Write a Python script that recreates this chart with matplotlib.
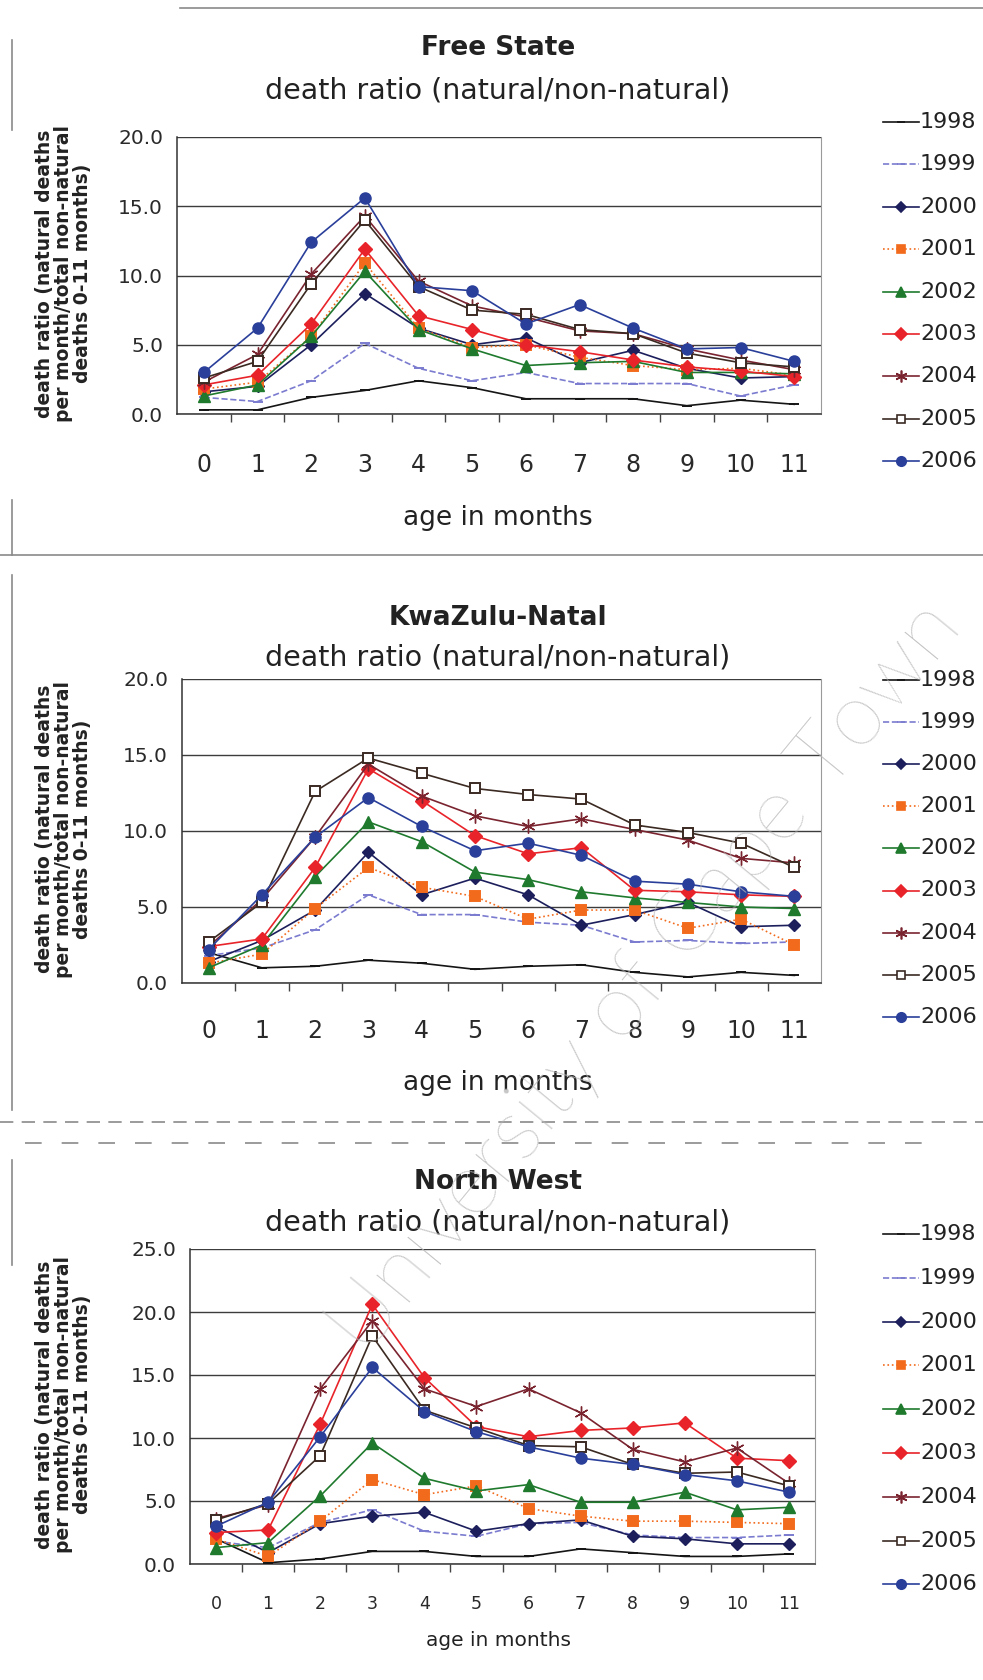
"""Three stacked line charts: infant death ratio (natural / non-natural)
by age in months, 1998-2006, for Free State, KwaZulu-Natal and North West.
"""
import numpy as np
import matplotlib.pyplot as plt
from matplotlib.lines import Line2D
from matplotlib.ticker import FormatStrFormatter

W, H = 983, 1680

MONTHS = list(range(12))
YEARS = ["1998", "1999", "2000", "2001", "2002", "2003", "2004", "2005", "2006"]

FREE_STATE = [
    [0.3, 0.3, 1.2, 1.7, 2.4, 1.9, 1.1, 1.1, 1.1, 0.6, 1.0, 0.7],
    [1.2, 0.9, 2.4, 5.1, 3.3, 2.4, 3.0, 2.2, 2.2, 2.2, 1.3, 2.1],
    [1.6, 2.0, 5.0, 8.7, 6.2, 5.0, 5.5, 3.7, 4.6, 3.3, 2.6, 2.7],
    [1.8, 2.3, 5.6, 10.9, 6.2, 4.8, 5.0, 4.1, 3.5, 3.2, 3.3, 2.8],
    [1.3, 2.1, 5.6, 10.3, 6.1, 4.7, 3.5, 3.7, 3.8, 3.0, 3.0, 2.9],
    [2.1, 2.8, 6.5, 11.9, 7.1, 6.1, 5.0, 4.5, 3.9, 3.4, 3.1, 2.7],
    [2.3, 4.3, 10.1, 14.3, 9.6, 7.8, 7.0, 6.0, 5.8, 4.7, 3.9, 3.2],
    [2.6, 3.8, 9.4, 14.0, 9.2, 7.5, 7.2, 6.1, 5.8, 4.4, 3.7, 3.4],
    [3.0, 6.2, 12.4, 15.6, 9.2, 8.9, 6.5, 7.9, 6.2, 4.7, 4.8, 3.8],
]

KWAZULU_NATAL = [
    [2.0, 1.0, 1.1, 1.5, 1.3, 0.9, 1.1, 1.2, 0.7, 0.4, 0.7, 0.5],
    [1.8, 2.3, 3.5, 5.8, 4.5, 4.5, 4.0, 3.8, 2.7, 2.8, 2.6, 2.7],
    [1.4, 2.8, 4.8, 8.6, 5.8, 6.9, 5.8, 3.8, 4.5, 5.3, 3.7, 3.8],
    [1.3, 1.9, 4.9, 7.6, 6.3, 5.7, 4.2, 4.8, 4.8, 3.6, 4.2, 2.5],
    [1.0, 2.5, 7.0, 10.6, 9.3, 7.3, 6.8, 6.0, 5.6, 5.3, 5.0, 4.9],
    [2.4, 2.9, 7.6, 14.1, 12.0, 9.7, 8.5, 8.9, 6.1, 6.0, 5.8, 5.7],
    [2.4, 5.5, 9.6, 14.4, 12.3, 11.0, 10.3, 10.8, 10.1, 9.4, 8.2, 7.9],
    [2.7, 5.3, 12.6, 14.8, 13.8, 12.8, 12.4, 12.1, 10.4, 9.9, 9.2, 7.6],
    [2.2, 5.8, 9.6, 12.2, 10.3, 8.7, 9.2, 8.4, 6.7, 6.5, 6.0, 5.7],
]

NORTH_WEST = [
    [2.0, 0.1, 0.4, 1.0, 1.0, 0.6, 0.6, 1.2, 0.9, 0.6, 0.6, 0.8],
    [1.8, 1.3, 3.3, 4.3, 2.6, 2.2, 3.2, 3.3, 2.3, 2.1, 2.1, 2.3],
    [3.0, 0.9, 3.2, 3.8, 4.1, 2.6, 3.2, 3.5, 2.2, 2.0, 1.6, 1.6],
    [2.0, 0.6, 3.4, 6.7, 5.5, 6.2, 4.4, 3.8, 3.4, 3.4, 3.3, 3.2],
    [1.3, 1.7, 5.4, 9.6, 6.8, 5.8, 6.3, 4.9, 4.9, 5.7, 4.3, 4.5],
    [2.5, 2.7, 11.1, 20.6, 14.8, 10.9, 10.1, 10.6, 10.8, 11.2, 8.4, 8.2],
    [3.6, 4.7, 13.9, 19.3, 13.9, 12.5, 13.9, 12.0, 9.1, 8.1, 9.2, 6.4],
    [3.5, 4.8, 8.6, 18.1, 12.2, 10.8, 9.4, 9.3, 7.9, 7.2, 7.3, 6.2],
    [3.0, 4.9, 10.1, 15.6, 12.1, 10.5, 9.3, 8.4, 7.9, 7.1, 6.6, 5.7],
]

# series styling (Excel-like defaults)
COLORS = ["#151515", "#7b7bd0", "#1c1f5c", "#f26b1d", "#1f7a2e",
          "#e8242a", "#7a2430", "#3b2a22", "#2a3f9a"]
LINESTYLES = ["-", "--", "-", ":", "-", "-", "-", "-", "-"]
MARKERS = ["_", "_", "D", "s", "^", "D", (6, 2, 0), "s", "o"]
MSIZES = [6.5, 6.5, 6.5, 7, 8, 7, 10, 7.5, 8]
FACES = [None, None, None, None, None, None, None, "white", None]

YLABEL = "death ratio (natural deaths\nper month/total non-natural\ndeaths 0-11 months)"
SUBTITLE = "death ratio (natural/non-natural)"

plt.rcParams["font.family"] = ["DejaVu Sans"]


def fx(px):
    return px / W


def fy(py):
    return 1 - py / H


def panel(fig, data, title, ymax, box, title_y, sub_y, xlab_y, legend_y,
          xtick_size, xtick_pad, xlab_size):
    left, top, right, bottom = box
    ax = fig.add_axes([fx(left), fy(bottom), (right - left) / W, (bottom - top) / H])

    for vals, c, ls, mk, ms, fc in zip(data, COLORS, LINESTYLES, MARKERS, MSIZES, FACES):
        ax.plot(MONTHS, vals, color=c, ls=ls, lw=1.2, marker=mk, ms=ms,
                mfc=fc if fc else c, mec=c, mew=1.4 if mk in ("_", "s") else 1.0,
                zorder=3)

    ax.set_xlim(-0.5, 11.5)
    ax.set_ylim(0, ymax)
    ax.set_yticks(np.arange(0, ymax + 0.1, 5))
    ax.yaxis.set_major_formatter(FormatStrFormatter("%.1f"))
    ax.grid(axis="y", color="#3c3c3c", lw=1.0)
    ax.set_axisbelow(True)

    ax.set_xticks(MONTHS)
    ax.set_xticks(np.arange(0.5, 11, 1), minor=True)
    ax.tick_params(axis="x", which="major", length=0, pad=xtick_pad,
                   labelsize=xtick_size, labelcolor="#2a2a2a")
    ax.tick_params(axis="x", which="minor", length=6, direction="out",
                   color="#444", width=1)
    ax.tick_params(axis="y", length=0, pad=10, labelsize=14.5, labelcolor="#2a2a2a")

    ax.spines["top"].set_visible(False)
    ax.spines["right"].set_color("#9a9a9a")
    for s in ("left", "bottom"):
        ax.spines[s].set_color("#333")
        ax.spines[s].set_linewidth(1.1)

    cx = 498
    fig.text(fx(cx), fy(title_y), title, ha="center", va="center",
             fontsize=19, fontweight="bold", color="#222")
    fig.text(fx(cx), fy(sub_y), SUBTITLE, ha="center", va="center",
             fontsize=20.5, color="#222")
    fig.text(fx(cx), fy(xlab_y), "age in months", ha="center", va="center",
             fontsize=xlab_size, color="#222")
    fig.text(fx(64), fy((top + bottom) / 2 - 2), YLABEL, rotation=90,
             ha="center", va="center", fontsize=13.5, fontweight="bold",
             linespacing=1.0, color="#222")

    # hand-placed legend to the right of the plot area
    y0, pitch = legend_y
    for i, (yr, c, ls, mk, ms, fc) in enumerate(
            zip(YEARS, COLORS, LINESTYLES, MARKERS, MSIZES, FACES)):
        y = y0 + i * pitch
        fig.add_artist(Line2D([fx(883), fx(919)], [fy(y), fy(y)],
                              transform=fig.transFigure, color=c, ls=ls, lw=1.2))
        fig.add_artist(Line2D([fx(901)], [fy(y)], transform=fig.transFigure,
                              marker=mk, ms=ms * 0.85, color=c,
                              mfc=fc if fc else c, mec=c, mew=1.2))
        fig.text(fx(920), fy(y), yr, ha="left", va="center",
                 fontsize=16, color="#222")
    return ax


fig = plt.figure(figsize=(W / 100, H / 100), dpi=100)

panel(fig, FREE_STATE, "Free State", 20, (177, 137, 821, 414),
      48, 91, 518, (122, 42.4), 17, 28, 19)
panel(fig, KWAZULU_NATAL, "KwaZulu-Natal", 20, (182, 679, 821, 983),
      618, 658, 1083, (680, 42.1), 17, 26, 19)
panel(fig, NORTH_WEST, "North West", 25, (190, 1249, 815, 1564),
      1182, 1223, 1641, (1234, 43.8), 12.5, 22, 14.5)

# scanned page frame remnants
frame = dict(transform=fig.transFigure, color="#8a8a8a", lw=1.2)
fig.add_artist(Line2D([fx(180), fx(983)], [fy(8), fy(8)], **frame))
fig.add_artist(Line2D([fx(0), fx(983)], [fy(555), fy(555)], **frame))
fig.add_artist(Line2D([fx(12), fx(12)], [fy(40), fy(130)], **frame))
fig.add_artist(Line2D([fx(12), fx(12)], [fy(500), fy(555)], **frame))
fig.add_artist(Line2D([fx(12), fx(12)], [fy(575), fy(1110)], **frame))
fig.add_artist(Line2D([fx(0), fx(983)], [fy(1122), fy(1122)], ls=(0, (8, 5)), **frame))
fig.add_artist(Line2D([fx(25), fx(940)], [fy(1143), fy(1143)], ls=(0, (10, 12)), **frame))
fig.add_artist(Line2D([fx(12), fx(12)], [fy(1160), fy(1265)], **frame))

# watermark
fig.text(fx(646), fy(978), "University of Cape Town", rotation=50.6,
         ha="center", va="center", fontsize=64, family=["Lato", "DejaVu Sans"],
         fontweight="light", color="#b8b8b8", alpha=0.8, zorder=10)

fig.savefig("out.png", dpi=100, facecolor="white")
